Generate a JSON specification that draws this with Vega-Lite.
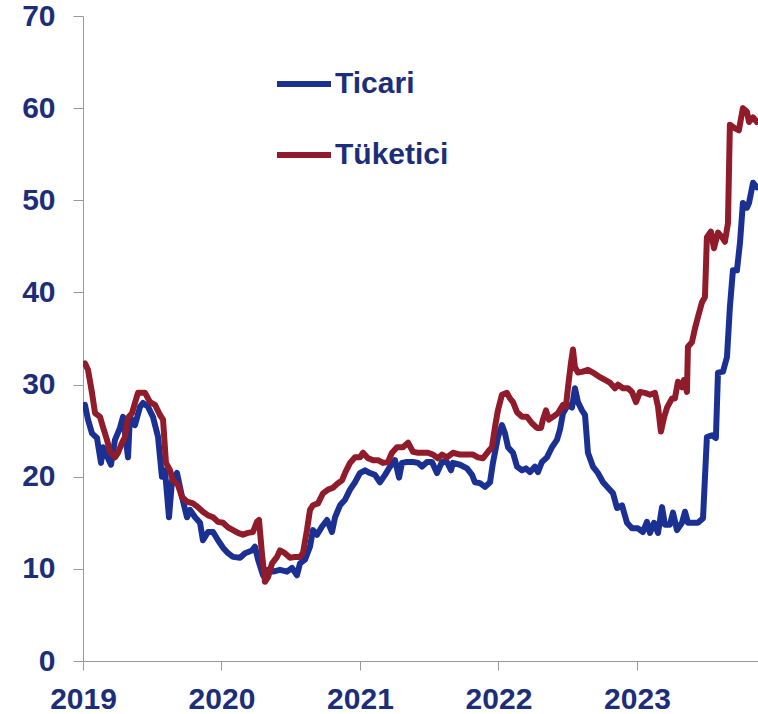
{
  "$schema": "https://vega.github.io/schema/vega-lite/v6.json",
  "width": 675,
  "height": 645,
  "autosize": "none",
  "padding": {"left": 83, "top": 16, "right": 0, "bottom": 53},
  "background": "white",
  "config": {
    "view": {"stroke": null},
    "font": "Liberation Sans"
  },
  "data": {
    "values": [
      {"s":"Ticari","t":2019.014,"v":27.8},{"s":"Ticari","t":2019.036,"v":26.2},{"s":"Ticari","t":2019.065,"v":24.7},{"s":"Ticari","t":2019.101,"v":24.2},{"s":"Ticari","t":2019.130,"v":21.5},{"s":"Ticari","t":2019.144,"v":23.2},{"s":"Ticari","t":2019.202,"v":21.3},{"s":"Ticari","t":2019.231,"v":24.0},{"s":"Ticari","t":2019.267,"v":25.3},{"s":"Ticari","t":2019.289,"v":26.5},{"s":"Ticari","t":2019.325,"v":22.1},{"s":"Ticari","t":2019.339,"v":26.5},{"s":"Ticari","t":2019.375,"v":25.6},{"s":"Ticari","t":2019.412,"v":27.6},{"s":"Ticari","t":2019.433,"v":28.0},{"s":"Ticari","t":2019.469,"v":27.6},{"s":"Ticari","t":2019.505,"v":26.5},{"s":"Ticari","t":2019.542,"v":24.3},{"s":"Ticari","t":2019.570,"v":20.0},{"s":"Ticari","t":2019.592,"v":20.7},{"s":"Ticari","t":2019.621,"v":15.6},{"s":"Ticari","t":2019.643,"v":19.6},{"s":"Ticari","t":2019.679,"v":20.4},{"s":"Ticari","t":2019.715,"v":17.8},{"s":"Ticari","t":2019.751,"v":15.6},{"s":"Ticari","t":2019.773,"v":16.4},{"s":"Ticari","t":2019.809,"v":15.6},{"s":"Ticari","t":2019.845,"v":15.0},{"s":"Ticari","t":2019.866,"v":13.1},{"s":"Ticari","t":2019.903,"v":14.0},{"s":"Ticari","t":2019.939,"v":14.0},{"s":"Ticari","t":2019.975,"v":13.1},{"s":"Ticari","t":2020.011,"v":12.3},{"s":"Ticari","t":2020.047,"v":11.7},{"s":"Ticari","t":2020.083,"v":11.3},{"s":"Ticari","t":2020.134,"v":11.2},{"s":"Ticari","t":2020.170,"v":11.7},{"s":"Ticari","t":2020.220,"v":12.0},{"s":"Ticari","t":2020.242,"v":12.4},{"s":"Ticari","t":2020.264,"v":11.0},{"s":"Ticari","t":2020.300,"v":9.3},{"s":"Ticari","t":2020.336,"v":9.9},{"s":"Ticari","t":2020.372,"v":9.7},{"s":"Ticari","t":2020.422,"v":9.9},{"s":"Ticari","t":2020.473,"v":9.7},{"s":"Ticari","t":2020.509,"v":10.1},{"s":"Ticari","t":2020.545,"v":9.3},{"s":"Ticari","t":2020.567,"v":10.6},{"s":"Ticari","t":2020.603,"v":11.0},{"s":"Ticari","t":2020.639,"v":12.4},{"s":"Ticari","t":2020.661,"v":14.2},{"s":"Ticari","t":2020.690,"v":13.7},{"s":"Ticari","t":2020.726,"v":14.6},{"s":"Ticari","t":2020.762,"v":15.3},{"s":"Ticari","t":2020.798,"v":14.0},{"s":"Ticari","t":2020.820,"v":15.6},{"s":"Ticari","t":2020.856,"v":16.9},{"s":"Ticari","t":2020.892,"v":17.5},{"s":"Ticari","t":2020.928,"v":18.6},{"s":"Ticari","t":2020.964,"v":19.4},{"s":"Ticari","t":2021.000,"v":20.4},{"s":"Ticari","t":2021.036,"v":20.7},{"s":"Ticari","t":2021.072,"v":20.4},{"s":"Ticari","t":2021.108,"v":20.2},{"s":"Ticari","t":2021.144,"v":19.4},{"s":"Ticari","t":2021.181,"v":20.2},{"s":"Ticari","t":2021.217,"v":21.1},{"s":"Ticari","t":2021.253,"v":21.8},{"s":"Ticari","t":2021.282,"v":19.9},{"s":"Ticari","t":2021.303,"v":21.5},{"s":"Ticari","t":2021.339,"v":21.6},{"s":"Ticari","t":2021.383,"v":21.6},{"s":"Ticari","t":2021.419,"v":21.5},{"s":"Ticari","t":2021.448,"v":21.1},{"s":"Ticari","t":2021.484,"v":21.6},{"s":"Ticari","t":2021.520,"v":21.6},{"s":"Ticari","t":2021.556,"v":20.4},{"s":"Ticari","t":2021.592,"v":21.6},{"s":"Ticari","t":2021.628,"v":21.6},{"s":"Ticari","t":2021.657,"v":20.7},{"s":"Ticari","t":2021.671,"v":21.5},{"s":"Ticari","t":2021.722,"v":21.3},{"s":"Ticari","t":2021.773,"v":20.9},{"s":"Ticari","t":2021.809,"v":20.2},{"s":"Ticari","t":2021.830,"v":19.4},{"s":"Ticari","t":2021.866,"v":19.3},{"s":"Ticari","t":2021.903,"v":18.9},{"s":"Ticari","t":2021.939,"v":19.4},{"s":"Ticari","t":2021.960,"v":21.5},{"s":"Ticari","t":2021.996,"v":24.3},{"s":"Ticari","t":2022.025,"v":25.6},{"s":"Ticari","t":2022.047,"v":24.7},{"s":"Ticari","t":2022.069,"v":23.2},{"s":"Ticari","t":2022.105,"v":22.6},{"s":"Ticari","t":2022.134,"v":21.1},{"s":"Ticari","t":2022.170,"v":20.7},{"s":"Ticari","t":2022.199,"v":20.9},{"s":"Ticari","t":2022.227,"v":20.5},{"s":"Ticari","t":2022.264,"v":21.1},{"s":"Ticari","t":2022.285,"v":20.5},{"s":"Ticari","t":2022.314,"v":21.6},{"s":"Ticari","t":2022.350,"v":22.1},{"s":"Ticari","t":2022.386,"v":23.2},{"s":"Ticari","t":2022.422,"v":24.0},{"s":"Ticari","t":2022.444,"v":25.1},{"s":"Ticari","t":2022.466,"v":26.9},{"s":"Ticari","t":2022.502,"v":27.8},{"s":"Ticari","t":2022.531,"v":27.5},{"s":"Ticari","t":2022.552,"v":29.6},{"s":"Ticari","t":2022.574,"v":28.1},{"s":"Ticari","t":2022.603,"v":27.2},{"s":"Ticari","t":2022.625,"v":26.7},{"s":"Ticari","t":2022.646,"v":22.6},{"s":"Ticari","t":2022.682,"v":21.1},{"s":"Ticari","t":2022.718,"v":20.4},{"s":"Ticari","t":2022.755,"v":19.4},{"s":"Ticari","t":2022.791,"v":18.8},{"s":"Ticari","t":2022.827,"v":18.2},{"s":"Ticari","t":2022.856,"v":16.6},{"s":"Ticari","t":2022.892,"v":16.9},{"s":"Ticari","t":2022.928,"v":15.0},{"s":"Ticari","t":2022.964,"v":14.4},{"s":"Ticari","t":2023.007,"v":14.4},{"s":"Ticari","t":2023.043,"v":14.0},{"s":"Ticari","t":2023.072,"v":15.1},{"s":"Ticari","t":2023.094,"v":13.9},{"s":"Ticari","t":2023.123,"v":15.0},{"s":"Ticari","t":2023.152,"v":13.9},{"s":"Ticari","t":2023.181,"v":16.7},{"s":"Ticari","t":2023.202,"v":14.8},{"s":"Ticari","t":2023.238,"v":14.8},{"s":"Ticari","t":2023.260,"v":16.1},{"s":"Ticari","t":2023.289,"v":14.2},{"s":"Ticari","t":2023.325,"v":15.0},{"s":"Ticari","t":2023.347,"v":16.2},{"s":"Ticari","t":2023.368,"v":15.0},{"s":"Ticari","t":2023.404,"v":15.0},{"s":"Ticari","t":2023.440,"v":15.0},{"s":"Ticari","t":2023.477,"v":15.5},{"s":"Ticari","t":2023.505,"v":24.3},{"s":"Ticari","t":2023.542,"v":24.5},{"s":"Ticari","t":2023.570,"v":24.2},{"s":"Ticari","t":2023.585,"v":31.3},{"s":"Ticari","t":2023.621,"v":31.4},{"s":"Ticari","t":2023.650,"v":33.0},{"s":"Ticari","t":2023.671,"v":38.4},{"s":"Ticari","t":2023.693,"v":42.4},{"s":"Ticari","t":2023.722,"v":42.4},{"s":"Ticari","t":2023.744,"v":45.4},{"s":"Ticari","t":2023.765,"v":49.7},{"s":"Ticari","t":2023.794,"v":49.2},{"s":"Ticari","t":2023.809,"v":49.7},{"s":"Ticari","t":2023.838,"v":51.9},{"s":"Ticari","t":2023.866,"v":51.4},
      {"s":"Tüketici","t":2019.014,"v":32.3},{"s":"Tüketici","t":2019.036,"v":31.6},{"s":"Tüketici","t":2019.065,"v":29.1},{"s":"Tüketici","t":2019.087,"v":26.9},{"s":"Tüketici","t":2019.123,"v":26.5},{"s":"Tüketici","t":2019.144,"v":25.4},{"s":"Tüketici","t":2019.173,"v":24.0},{"s":"Tüketici","t":2019.195,"v":22.7},{"s":"Tüketici","t":2019.231,"v":22.1},{"s":"Tüketici","t":2019.253,"v":22.6},{"s":"Tüketici","t":2019.282,"v":23.7},{"s":"Tüketici","t":2019.303,"v":24.3},{"s":"Tüketici","t":2019.325,"v":26.4},{"s":"Tüketici","t":2019.354,"v":26.9},{"s":"Tüketici","t":2019.375,"v":28.0},{"s":"Tüketici","t":2019.397,"v":29.1},{"s":"Tüketici","t":2019.448,"v":29.1},{"s":"Tüketici","t":2019.484,"v":28.1},{"s":"Tüketici","t":2019.520,"v":27.8},{"s":"Tüketici","t":2019.556,"v":26.7},{"s":"Tüketici","t":2019.578,"v":26.2},{"s":"Tüketici","t":2019.599,"v":21.5},{"s":"Tüketici","t":2019.628,"v":20.7},{"s":"Tüketici","t":2019.650,"v":19.6},{"s":"Tüketici","t":2019.686,"v":19.1},{"s":"Tüketici","t":2019.715,"v":17.8},{"s":"Tüketici","t":2019.751,"v":17.3},{"s":"Tüketici","t":2019.794,"v":17.1},{"s":"Tüketici","t":2019.830,"v":16.7},{"s":"Tüketici","t":2019.866,"v":16.2},{"s":"Tüketici","t":2019.903,"v":15.8},{"s":"Tüketici","t":2019.939,"v":15.6},{"s":"Tüketici","t":2019.975,"v":15.1},{"s":"Tüketici","t":2020.011,"v":15.0},{"s":"Tüketici","t":2020.047,"v":14.5},{"s":"Tüketici","t":2020.083,"v":14.2},{"s":"Tüketici","t":2020.119,"v":13.9},{"s":"Tüketici","t":2020.155,"v":13.7},{"s":"Tüketici","t":2020.191,"v":13.9},{"s":"Tüketici","t":2020.227,"v":14.0},{"s":"Tüketici","t":2020.256,"v":15.1},{"s":"Tüketici","t":2020.271,"v":15.3},{"s":"Tüketici","t":2020.292,"v":11.7},{"s":"Tüketici","t":2020.314,"v":8.6},{"s":"Tüketici","t":2020.336,"v":9.1},{"s":"Tüketici","t":2020.365,"v":10.6},{"s":"Tüketici","t":2020.401,"v":11.3},{"s":"Tüketici","t":2020.422,"v":12.0},{"s":"Tüketici","t":2020.458,"v":11.7},{"s":"Tüketici","t":2020.495,"v":11.2},{"s":"Tüketici","t":2020.531,"v":11.3},{"s":"Tüketici","t":2020.567,"v":11.3},{"s":"Tüketici","t":2020.588,"v":11.7},{"s":"Tüketici","t":2020.617,"v":14.2},{"s":"Tüketici","t":2020.639,"v":16.4},{"s":"Tüketici","t":2020.661,"v":16.9},{"s":"Tüketici","t":2020.697,"v":17.1},{"s":"Tüketici","t":2020.733,"v":18.2},{"s":"Tüketici","t":2020.769,"v":18.6},{"s":"Tüketici","t":2020.805,"v":18.8},{"s":"Tüketici","t":2020.841,"v":19.3},{"s":"Tüketici","t":2020.870,"v":19.6},{"s":"Tüketici","t":2020.892,"v":20.4},{"s":"Tüketici","t":2020.928,"v":21.5},{"s":"Tüketici","t":2020.964,"v":22.1},{"s":"Tüketici","t":2021.000,"v":22.1},{"s":"Tüketici","t":2021.022,"v":22.6},{"s":"Tüketici","t":2021.058,"v":22.0},{"s":"Tüketici","t":2021.094,"v":21.8},{"s":"Tüketici","t":2021.130,"v":21.8},{"s":"Tüketici","t":2021.166,"v":21.5},{"s":"Tüketici","t":2021.202,"v":21.6},{"s":"Tüketici","t":2021.231,"v":22.6},{"s":"Tüketici","t":2021.267,"v":23.2},{"s":"Tüketici","t":2021.310,"v":23.2},{"s":"Tüketici","t":2021.347,"v":23.7},{"s":"Tüketici","t":2021.383,"v":22.7},{"s":"Tüketici","t":2021.419,"v":22.6},{"s":"Tüketici","t":2021.455,"v":22.6},{"s":"Tüketici","t":2021.491,"v":22.6},{"s":"Tüketici","t":2021.527,"v":22.4},{"s":"Tüketici","t":2021.563,"v":22.0},{"s":"Tüketici","t":2021.592,"v":22.4},{"s":"Tüketici","t":2021.628,"v":22.1},{"s":"Tüketici","t":2021.671,"v":22.6},{"s":"Tüketici","t":2021.722,"v":22.4},{"s":"Tüketici","t":2021.773,"v":22.4},{"s":"Tüketici","t":2021.816,"v":22.4},{"s":"Tüketici","t":2021.852,"v":22.1},{"s":"Tüketici","t":2021.888,"v":22.0},{"s":"Tüketici","t":2021.924,"v":22.7},{"s":"Tüketici","t":2021.953,"v":23.2},{"s":"Tüketici","t":2021.975,"v":25.4},{"s":"Tüketici","t":2021.996,"v":27.2},{"s":"Tüketici","t":2022.025,"v":28.9},{"s":"Tüketici","t":2022.061,"v":29.1},{"s":"Tüketici","t":2022.083,"v":28.5},{"s":"Tüketici","t":2022.105,"v":28.1},{"s":"Tüketici","t":2022.134,"v":27.0},{"s":"Tüketici","t":2022.170,"v":26.5},{"s":"Tüketici","t":2022.206,"v":26.5},{"s":"Tüketici","t":2022.242,"v":25.8},{"s":"Tüketici","t":2022.278,"v":25.3},{"s":"Tüketici","t":2022.307,"v":25.3},{"s":"Tüketici","t":2022.321,"v":26.2},{"s":"Tüketici","t":2022.343,"v":27.2},{"s":"Tüketici","t":2022.364,"v":26.2},{"s":"Tüketici","t":2022.394,"v":26.5},{"s":"Tüketici","t":2022.430,"v":26.9},{"s":"Tüketici","t":2022.466,"v":27.8},{"s":"Tüketici","t":2022.487,"v":27.6},{"s":"Tüketici","t":2022.502,"v":29.7},{"s":"Tüketici","t":2022.523,"v":32.3},{"s":"Tüketici","t":2022.538,"v":33.8},{"s":"Tüketici","t":2022.552,"v":31.9},{"s":"Tüketici","t":2022.574,"v":31.3},{"s":"Tüketici","t":2022.610,"v":31.4},{"s":"Tüketici","t":2022.646,"v":31.6},{"s":"Tüketici","t":2022.682,"v":31.3},{"s":"Tüketici","t":2022.733,"v":30.8},{"s":"Tüketici","t":2022.769,"v":30.5},{"s":"Tüketici","t":2022.805,"v":30.2},{"s":"Tüketici","t":2022.841,"v":29.6},{"s":"Tüketici","t":2022.863,"v":30.0},{"s":"Tüketici","t":2022.899,"v":29.6},{"s":"Tüketici","t":2022.935,"v":29.6},{"s":"Tüketici","t":2022.964,"v":29.2},{"s":"Tüketici","t":2022.993,"v":28.1},{"s":"Tüketici","t":2023.022,"v":29.2},{"s":"Tüketici","t":2023.058,"v":29.1},{"s":"Tüketici","t":2023.094,"v":28.9},{"s":"Tüketici","t":2023.130,"v":29.1},{"s":"Tüketici","t":2023.152,"v":27.6},{"s":"Tüketici","t":2023.173,"v":24.9},{"s":"Tüketici","t":2023.195,"v":26.4},{"s":"Tüketici","t":2023.217,"v":27.5},{"s":"Tüketici","t":2023.253,"v":28.5},{"s":"Tüketici","t":2023.274,"v":28.5},{"s":"Tüketici","t":2023.296,"v":30.3},{"s":"Tüketici","t":2023.325,"v":29.7},{"s":"Tüketici","t":2023.339,"v":30.5},{"s":"Tüketici","t":2023.361,"v":29.2},{"s":"Tüketici","t":2023.368,"v":34.1},{"s":"Tüketici","t":2023.397,"v":34.6},{"s":"Tüketici","t":2023.419,"v":36.1},{"s":"Tüketici","t":2023.440,"v":37.3},{"s":"Tüketici","t":2023.469,"v":38.9},{"s":"Tüketici","t":2023.491,"v":39.5},{"s":"Tüketici","t":2023.505,"v":46.0},{"s":"Tüketici","t":2023.534,"v":46.6},{"s":"Tüketici","t":2023.556,"v":44.8},{"s":"Tüketici","t":2023.585,"v":46.5},{"s":"Tüketici","t":2023.614,"v":46.0},{"s":"Tüketici","t":2023.635,"v":45.5},{"s":"Tüketici","t":2023.657,"v":47.5},{"s":"Tüketici","t":2023.671,"v":58.2},{"s":"Tüketici","t":2023.708,"v":57.8},{"s":"Tüketici","t":2023.736,"v":57.6},{"s":"Tüketici","t":2023.765,"v":60.0},{"s":"Tüketici","t":2023.794,"v":59.6},{"s":"Tüketici","t":2023.809,"v":58.5},{"s":"Tüketici","t":2023.838,"v":59.0},{"s":"Tüketici","t":2023.866,"v":58.5}
    ]
  },
  "mark": {"type": "line", "strokeWidth": 6, "strokeJoin": "round", "strokeCap": "round", "clip": true},
  "encoding": {
    "x": {
      "field": "t",
      "type": "quantitative",
      "scale": {"domain": [2019, 2023.874], "nice": false, "zero": false},
      "axis": {
        "title": null,
        "values": [2019, 2020, 2021, 2022, 2023],
        "format": "d",
        "grid": false,
        "domainColor": "#999999",
        "tickColor": "#999999",
        "tickSize": 9,
        "labelFontSize": 30,
        "labelFont": "Liberation Sans",
        "labelFontWeight": "bold",
        "labelColor": "#1c2e7a",
        "labelPadding": 14,
        "labelFlush": false,
        "labelOverlap": false
      }
    },
    "y": {
      "field": "v",
      "type": "quantitative",
      "scale": {"domain": [0, 70], "nice": false},
      "axis": {
        "title": null,
        "values": [0, 10, 20, 30, 40, 50, 60, 70],
        "grid": false,
        "domainColor": "#999999",
        "tickColor": "#999999",
        "tickSize": 10,
        "labelFontSize": 30,
        "labelFont": "Liberation Sans",
        "labelFontWeight": "bold",
        "labelColor": "#1c2e7a",
        "labelPadding": 18,
        "labelOverlap": false,
        "labelFlush": false
      }
    },
    "color": {
      "field": "s",
      "type": "nominal",
      "scale": {"domain": ["Ticari", "Tüketici"], "range": ["#1b3093", "#901b2a"]},
      "legend": {
        "orient": "none",
        "legendX": 191,
        "legendY": 38,
        "title": null,
        "symbolType": "stroke",
        "symbolSize": 2916,
        "symbolStrokeWidth": 6,
        "labelFontSize": 30,
        "labelFont": "Liberation Sans",
        "labelFontWeight": "bold",
        "labelColor": "#1c2e7a",
        "labelOffset": 1,
        "rowPadding": 26
      }
    }
  }
}
